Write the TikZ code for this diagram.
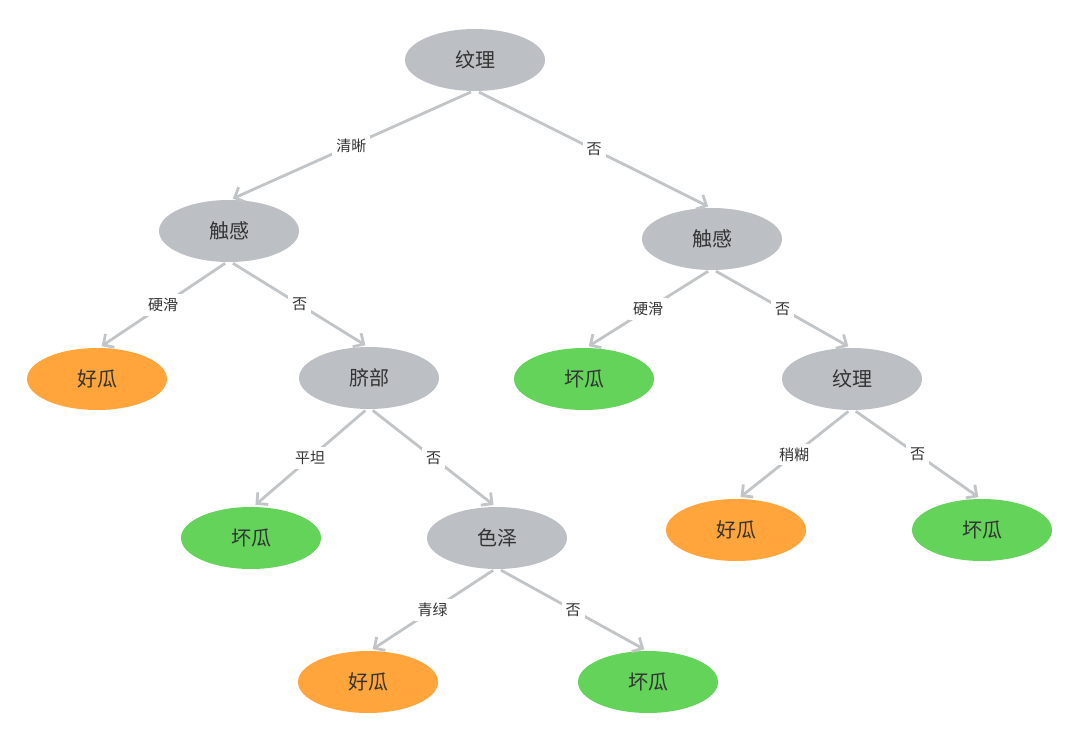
\documentclass[tikz,border=0pt]{standalone}
\usepackage{fontspec}
\setmainfont{Noto Sans CJK SC}
\usetikzlibrary{shapes.geometric,arrows.meta}
\definecolor{nodegray}{HTML}{BCC0C4}
\definecolor{good}{HTML}{FFA53B}
\definecolor{bad}{HTML}{63D35A}
\definecolor{edgegray}{HTML}{C2C5C8}
\definecolor{txt}{HTML}{333333}
\tikzset{
  tnode/.style={ellipse, minimum width=140pt, minimum height=62pt, inner sep=0pt, text=txt, font=\fontsize{20}{24}\selectfont},
  inner/.style={tnode, fill=nodegray},
  goodleaf/.style={tnode, fill=good},
  badleaf/.style={tnode, fill=bad},
  edge/.style={draw=edgegray, line width=2.8pt, -{Straight Barb[length=8pt,width=16pt,line width=2.8pt]}, shorten <=2pt, shorten >=3pt},
  elabel/.style={fill=white, inner sep=4pt, text=txt, font=\fontsize{15}{18}\selectfont}
}
\begin{document}
\begin{tikzpicture}[x=1pt,y=-1pt]
\useasboundingbox[fill=white] (0,0) rectangle (1080,741);
\node[inner] (root) at (475,60) {纹理};
\node[inner] (tl) at (229,231) {触感};
\node[inner] (tr) at (712,239) {触感};
\node[goodleaf] (g1) at (97,379) {好瓜};
\node[inner] (qb) at (369,378) {脐部};
\node[badleaf] (b1) at (584,379) {坏瓜};
\node[inner] (wl) at (852,379) {纹理};
\node[badleaf] (b2) at (251,538) {坏瓜};
\node[inner] (sz) at (497,538) {色泽};
\node[goodleaf] (g2) at (736,530) {好瓜};
\node[badleaf] (b3) at (982,530) {坏瓜};
\node[goodleaf] (g3) at (368,682) {好瓜};
\node[badleaf] (b4) at (648,682) {坏瓜};

\draw[edge] (root.266) -- node[elabel] {清晰} (tl.88);
\draw[edge] (root.274) -- node[elabel] {否} (tr.92);
\draw[edge] (tl.266) -- node[elabel] {硬滑} (g1.86);
\draw[edge] (tl.274) -- node[elabel] {否} (qb.92);
\draw[edge] (tr.266) -- node[elabel] {硬滑} (b1.86);
\draw[edge] (tr.274) -- node[elabel] {否} (wl.92);
\draw[edge] (qb.266) -- node[elabel] {平坦} (b2.86);
\draw[edge] (qb.274) -- node[elabel] {否} (sz.92);
\draw[edge] (wl.266) -- node[elabel] {稍糊} (g2.86);
\draw[edge] (wl.274) -- node[elabel] {否} (b3.92);
\draw[edge] (sz.266) -- node[elabel] {青绿} (g3.86);
\draw[edge] (sz.274) -- node[elabel] {否} (b4.92);
\end{tikzpicture}
\end{document}
